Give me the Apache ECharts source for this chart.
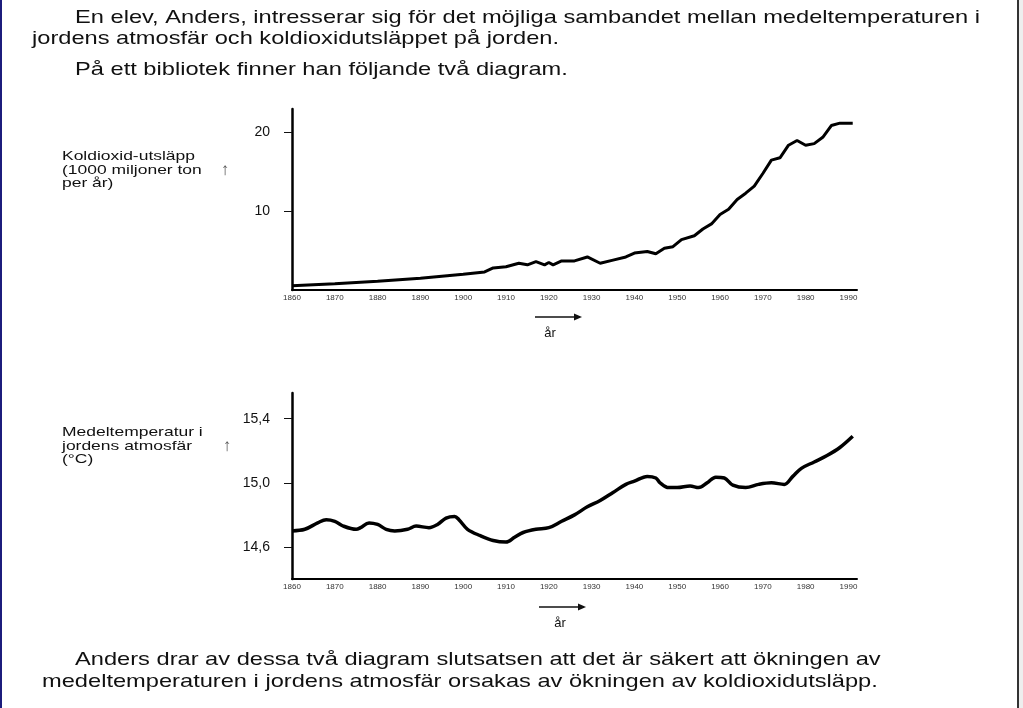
<!DOCTYPE html>
<html><head><meta charset="utf-8">
<script src="https://cdn.jsdelivr.net/npm/echarts@6/dist/echarts.min.js"></script>
<style>html,body{margin:0;padding:0;background:#fff}#c{width:1023px;height:708px}</style>
</head><body><div id="c"></div>
<script>
// ---- data ----
const co2Years = [1860,1870,1880,1890,1900,1905,1907,1910,1913,1915,1917,1919,1920,1921,1923,1926,1929,1932,1935,1938,1940,1943,1945,1947,1949,1951,1954,1956,1958,1960,1962,1964,1966,1968,1970,1972,1974,1976,1978,1980,1982,1984,1986,1988,1991];
const co2Values = [0.55,0.8,1.1,1.5,2.0,2.3,2.8,2.95,3.4,3.2,3.6,3.2,3.5,3.2,3.7,3.7,4.2,3.4,3.8,4.2,4.7,4.9,4.6,5.3,5.5,6.4,6.9,7.75,8.4,9.6,10.25,11.5,12.3,13.2,14.8,16.5,16.8,18.4,19.0,18.4,18.6,19.4,20.9,21.2,21.2];
const tempYears = [1860,1863,1866,1868,1870,1872,1875,1876,1878,1880,1882,1884,1887,1889,1892,1894,1896,1898,1899,1901,1904,1907,1910,1912,1914,1917,1920,1923,1926,1929,1932,1935,1938,1940,1943,1945,1946,1948,1950,1953,1955,1957,1959,1961,1963,1966,1969,1972,1975,1977,1979,1982,1985,1988,1991];
const tempValues = [14.70,14.71,14.75,14.77,14.76,14.73,14.71,14.72,14.75,14.74,14.71,14.70,14.71,14.73,14.72,14.74,14.78,14.79,14.77,14.71,14.67,14.64,14.63,14.66,14.69,14.71,14.72,14.76,14.80,14.85,14.89,14.94,14.99,15.01,15.04,15.03,15.0,14.97,14.97,14.98,14.97,15.0,15.035,15.03,14.985,14.97,14.99,15.0,14.99,15.04,15.09,15.13,15.17,15.22,15.29];
const yearTicks = [1860,1870,1880,1890,1900,1910,1920,1930,1940,1950,1960,1970,1980,1990];
const co2Ticks = [10,20];
const tempTicks = [14.6,15.0,15.4];
const introLines = ['En elev, Anders, intresserar sig för det möjliga sambandet mellan medeltemperaturen i','jordens atmosfär och koldioxidutsläppet på jorden.','På ett bibliotek finner han följande två diagram.'];
const outroLines = ['Anders drar av dessa två diagram slutsatsen att det är säkert att ökningen av','medeltemperaturen i jordens atmosfär orsakas av ökningen av koldioxidutsläpp.'];
const co2AxisName = ['Koldioxid-utsläpp','(1000 miljoner ton','per år)'];
const tempAxisName = ['Medeltemperatur i','jordens atmosfär','(°C)'];
const xAxisName = 'år';

// ---- layout helpers ----
const FAM = '"Liberation Sans", Arial, sans-serif';
const mctx = document.createElement('canvas').getContext('2d');
function tw(text, font){ mctx.font = font; return mctx.measureText(text).width; }
const bodyFont = '19px ' + FAM;
const sideFont = '13px ' + FAM;
const sxBody = (980 - 75) / tw(introLines[0], bodyFont);
const sxSide = (195 - 62) / tw(co2AxisName[0], sideFont);

function bodyText(t, x, y){
  return {type:'text', x:x, y:y, scaleX:sxBody, style:{text:t, font:bodyFont, fill:'#111', verticalAlign:'middle'}};
}
function sideText(lines, x, y){
  return {type:'text', x:x, y:y, scaleX:sxSide, style:{text:lines.join('\n'), font:sideFont, lineHeight:13.3, fill:'#111', verticalAlign:'top'}};
}
function arrow(x1, x2, y){
  return [
    {type:'line', shape:{x1:x1, y1:y, x2:x2-2, y2:y}, style:{stroke:'#111', lineWidth:1.3}},
    {type:'polygon', shape:{points:[[x2,y],[x2-8,y-3.5],[x2-8,y+3.5]]}, style:{fill:'#111'}}
  ];
}

const graphics = [
  {type:'rect', shape:{x:0, y:0, width:2, height:708}, style:{fill:'#1c1c7c'}},
  {type:'rect', shape:{x:1017, y:0, width:2, height:708}, style:{fill:'#333'}},
  {type:'rect', shape:{x:1019, y:0, width:4, height:708}, style:{fill:'#eeeeee'}},
  bodyText(introLines[0], 75, 18),
  bodyText(introLines[1], 32, 39),
  bodyText(introLines[2], 75, 70),
  bodyText(outroLines[0], 75, 660),
  bodyText(outroLines[1], 42, 682),
  sideText(co2AxisName, 62, 150),
  sideText(tempAxisName, 62, 426),
  {type:'text', x:225, y:170, style:{text:'↑', font:'17px ' + FAM, fill:'#555', align:'center', verticalAlign:'middle'}},
  {type:'text', x:227, y:446, style:{text:'↑', font:'17px ' + FAM, fill:'#555', align:'center', verticalAlign:'middle'}},
  ...arrow(535, 582, 317),
  {type:'text', x:550, y:333, style:{text:xAxisName, font:'13px ' + FAM, fill:'#111', align:'center', verticalAlign:'middle'}},
  ...arrow(539, 586, 607),
  {type:'text', x:560, y:623, style:{text:xAxisName, font:'13px ' + FAM, fill:'#111', align:'center', verticalAlign:'middle'}}
];

function xAxisCfg(gi){
  return {gridIndex:gi, type:'value', min:1860, max:1992,
    axisLine:{onZero:false, lineStyle:{color:'#000', width:2}},
    axisTick:{show:false}, splitLine:{show:false},
    axisLabel:{customValues:yearTicks, formatter:v=>String(v), fontSize:8, color:'#333', margin:4, fontFamily:FAM}};
}

const chart = echarts.init(document.getElementById('c'), null, {renderer:'canvas'});
chart.setOption({
  animation:false,
  backgroundColor:'#fff',
  grid:[
    {left:292, top:109, width:565, height:181},
    {left:292, top:393, width:565, height:186}
  ],
  xAxis:[xAxisCfg(0), xAxisCfg(1)],
  yAxis:[
    {gridIndex:0, type:'value', min:0, max:23,
      axisLine:{show:true, lineStyle:{color:'#000', width:2.5}},
      axisTick:{show:true, customValues:co2Ticks, length:8, lineStyle:{color:'#111', width:1}},
      splitLine:{show:false},
      axisLabel:{customValues:co2Ticks, formatter:v=>String(v), fontSize:14, color:'#111', margin:22, fontFamily:FAM}},
    {gridIndex:1, type:'value', min:14.4, max:15.56,
      axisLine:{show:true, lineStyle:{color:'#000', width:2.5}},
      axisTick:{show:true, customValues:tempTicks, length:8, lineStyle:{color:'#111', width:1}},
      splitLine:{show:false},
      axisLabel:{customValues:tempTicks, formatter:v=>v.toFixed(1).replace('.', ','), fontSize:14, color:'#111', margin:22, fontFamily:FAM}}
  ],
  series:[
    {type:'line', xAxisIndex:0, yAxisIndex:0, data:co2Years.map((y,i)=>[y, co2Values[i]]),
      showSymbol:false, lineStyle:{color:'#000', width:3}, silent:true},
    {type:'line', xAxisIndex:1, yAxisIndex:1, data:tempYears.map((y,i)=>[y, tempValues[i]]),
      showSymbol:false, smooth:0.35, lineStyle:{color:'#000', width:3.5}, silent:true}
  ],
  graphic:graphics
});
</script></body></html>
